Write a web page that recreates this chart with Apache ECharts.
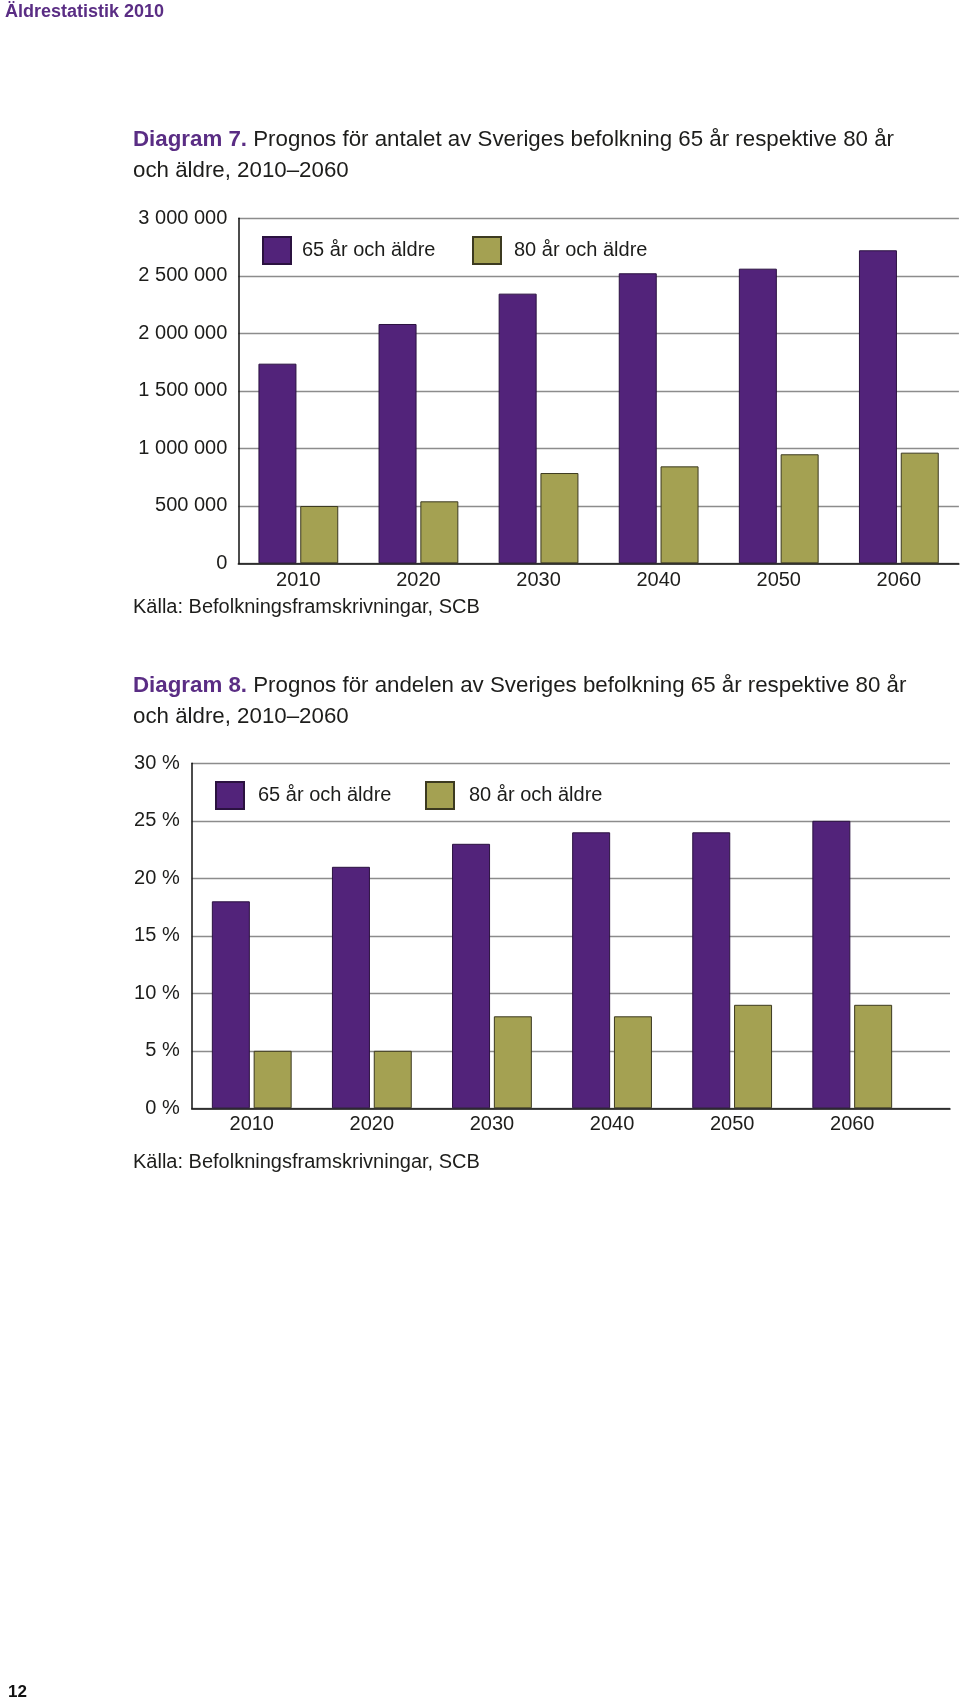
<!DOCTYPE html>
<html>
<head>
<meta charset="utf-8">
<script src="https://cdn.jsdelivr.net/npm/echarts@6/dist/echarts.min.js"></script>
<style>
html,body{margin:0;padding:0;background:#fff;}
#c{width:960px;height:1702px;}
</style>
</head>
<body>
<div id="c"></div>
<script>
// ---- data ----
const years = ['2010', '2020', '2030', '2040', '2050', '2060'];
const seriesNames = ['65 år och äldre', '80 år och äldre'];
const count65 = [1736000, 2081000, 2345000, 2522000, 2562000, 2722000];
const count80 = [498000, 539000, 785000, 843000, 948000, 962000];
const share65 = [18, 21, 23, 24, 24, 25];
const share80 = [5, 5, 8, 8, 9, 9];
const countTicks = [0, 500000, 1000000, 1500000, 2000000, 2500000, 3000000];
const shareTicks = [0, 5, 10, 15, 20, 25, 30];

const title7 = 'Diagram 7.';
const title7Text = ' Prognos för antalet av Sveriges befolkning 65 år respektive 80 år\noch äldre, 2010–2060';
const title8 = 'Diagram 8.';
const title8Text = ' Prognos för andelen av Sveriges befolkning 65 år respektive 80 år\noch äldre, 2010–2060';
const sourceText = 'Källa: Befolkningsframskrivningar, SCB';
const headerText = 'Äldrestatistik 2010';
const pageNo = '12';

// ---- style ----
const FONT = '"Liberation Sans", Arial, Helvetica, sans-serif';
const PURPLE = '#52237a';
const OLIVE = '#a4a152';
const TXT = '#1d1d1b';
const HEAD = '#5a2d84';
const GRIDC = '#8c8c8c';

const chart = echarts.init(document.getElementById('c'), null, {renderer: 'canvas'});

function fmtCount(v) {
  return String(v).replace(/\B(?=(\d{3})+(?!\d))/g, ' ');
}

const barStyle65 = {color: PURPLE, borderColor: '#2b1240', borderWidth: 1};
const barStyle80 = {color: OLIVE, borderColor: '#3c3a20', borderWidth: 1};

function legendItem(name, left, top, padTop, padLeft) {
  return {
    data: [name], left: left, top: top, padding: 0, orient: 'horizontal',
    itemWidth: 28, itemHeight: 27, selectedMode: false,
    icon: 'rect',
    textStyle: {fontFamily: FONT, fontSize: 20, color: TXT, padding: [padTop, 0, 0, padLeft]}
  };
}

const titleTS = {fontFamily: FONT, fontSize: 22.3, fontWeight: 'normal', color: TXT, lineHeight: 31,
  rich: {b: {fontFamily: FONT, fontSize: 22.3, fontWeight: 'bold', color: HEAD, lineHeight: 31}}};

const option = {
  animation: false,
  backgroundColor: '#fff',
  textStyle: {fontFamily: FONT},
  title: [
    {text: headerText, left: 5, top: 3, padding: 0,
      textStyle: {fontFamily: FONT, fontSize: 18, fontWeight: 'bold', color: HEAD, lineHeight: 18}},
    {text: '{b|' + title7 + '}' + title7Text, left: 133, top: 124, padding: 0, textStyle: titleTS},
    {text: sourceText, left: 133, top: 597, padding: 0,
      textStyle: {fontFamily: FONT, fontSize: 20, fontWeight: 'normal', color: TXT, lineHeight: 20}},
    {text: '{b|' + title8 + '}' + title8Text, left: 133, top: 670, padding: 0, textStyle: titleTS},
    {text: sourceText, left: 133, top: 1152, padding: 0,
      textStyle: {fontFamily: FONT, fontSize: 20, fontWeight: 'normal', color: TXT, lineHeight: 20}},
    {text: pageNo, left: 8, top: 1684, padding: 0,
      textStyle: {fontFamily: FONT, fontSize: 17, fontWeight: 'bold', color: '#111', lineHeight: 17}}
  ],
  legend: [
    legendItem(seriesNames[0], 262, 236, 6, 6),
    legendItem(seriesNames[1], 472, 236, 3, 8),
    legendItem(seriesNames[0], 215, 781, 5, 9),
    legendItem(seriesNames[1], 425, 781, 3, 10)
  ],
  grid: [
    {left: 238.3, top: 218.3, width: 720.6, height: 345, containLabel: false},
    {left: 191.7, top: 763.3, width: 758.3, height: 345, containLabel: false},
    {left: 191.7, top: 763.3, width: 720.6, height: 345, containLabel: false}
  ],
  xAxis: [
    {gridIndex: 0, type: 'category', data: years,
      axisLine: {show: true, lineStyle: {color: '#111', width: 1.5}},
      axisTick: {show: false},
      axisLabel: {fontFamily: FONT, fontSize: 20, color: TXT, margin: 7},
      splitLine: {show: false}},
    {gridIndex: 1, type: 'value', min: 0, max: 1,
      axisLine: {show: true, onZero: false, lineStyle: {color: '#111', width: 1.5}},
      axisTick: {show: false}, axisLabel: {show: false}, splitLine: {show: false}},
    {gridIndex: 2, type: 'category', data: years,
      axisLine: {show: false},
      axisTick: {show: false},
      axisLabel: {fontFamily: FONT, fontSize: 20, color: TXT, margin: 6},
      splitLine: {show: false}}
  ],
  yAxis: [
    {gridIndex: 0, type: 'value', min: countTicks[0], max: countTicks[countTicks.length - 1],
      interval: countTicks[1] - countTicks[0],
      axisLine: {show: true, lineStyle: {color: '#111', width: 1.5}},
      axisTick: {show: false},
      axisLabel: {fontFamily: FONT, fontSize: 20, color: TXT, margin: 11, formatter: fmtCount},
      splitLine: {show: true, lineStyle: {color: GRIDC, width: 1.3}}},
    {gridIndex: 1, type: 'value', min: shareTicks[0], max: shareTicks[shareTicks.length - 1],
      interval: shareTicks[1] - shareTicks[0],
      axisLine: {show: true, lineStyle: {color: '#111', width: 1.5}},
      axisTick: {show: false},
      axisLabel: {fontFamily: FONT, fontSize: 20, color: TXT, margin: 12, formatter: '{value} %'},
      splitLine: {show: true, lineStyle: {color: GRIDC, width: 1.3}}},
    {gridIndex: 2, type: 'value', min: shareTicks[0], max: shareTicks[shareTicks.length - 1],
      interval: shareTicks[1] - shareTicks[0],
      show: false}
  ],
  series: [
    {name: seriesNames[0], type: 'bar', xAxisIndex: 0, yAxisIndex: 0, data: count65,
      barWidth: 38, barGap: '10%', itemStyle: barStyle65},
    {name: seriesNames[1], type: 'bar', xAxisIndex: 0, yAxisIndex: 0, data: count80,
      barWidth: 38, barGap: '10%', itemStyle: barStyle80},
    {name: seriesNames[0], type: 'bar', xAxisIndex: 2, yAxisIndex: 2, data: share65,
      barWidth: 38, barGap: '10%', itemStyle: barStyle65},
    {name: seriesNames[1], type: 'bar', xAxisIndex: 2, yAxisIndex: 2, data: share80,
      barWidth: 38, barGap: '10%', itemStyle: barStyle80}
  ]
};
chart.setOption(option);
</script>
</body>
</html>
